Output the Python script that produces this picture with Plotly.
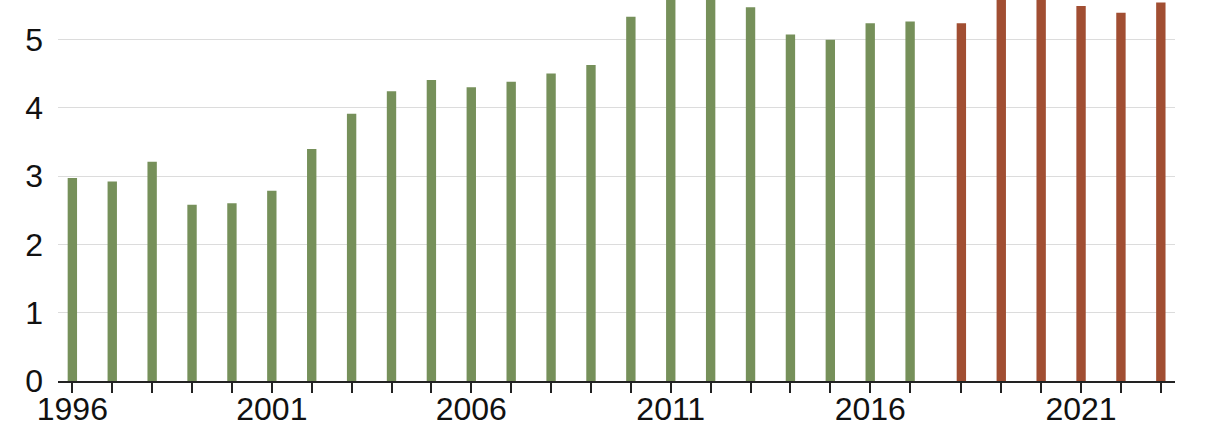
import plotly.graph_objects as go

green_years = list(range(1996, 2018))
green_values = [2.97, 2.92, 3.21, 2.58, 2.60, 2.785, 3.395, 3.91, 4.24, 4.405,
                4.30, 4.38, 4.50, 4.625, 5.33, 5.75, 5.72, 5.47, 5.07, 4.995,
                5.235, 5.26]
red_years = list(range(2018, 2024))
red_values = [5.235, 5.70, 5.68, 5.49, 5.39, 5.54]

tick_labels = ["1996", "2001", "2006", "2011", "2016", "2021"]

GREEN = "#76905a"
RED = "#a14e32"
RED_SHIFT = 0.285  # visual gap between the two periods
BAR_W = 0.235

green_x = green_years
red_x = [y + RED_SHIFT for y in red_years]
all_x = green_x + red_x
all_years = green_years + red_years

fig = go.Figure()
fig.add_trace(go.Bar(x=green_x, y=green_values, marker_color=GREEN,
                     marker_line_width=0, width=BAR_W, showlegend=False))
fig.add_trace(go.Bar(x=red_x, y=red_values, marker_color=RED,
                     marker_line_width=0, width=BAR_W, showlegend=False))

ticktext = [str(y) if str(y) in tick_labels else "" for y in all_years]
tickfont = dict(family="Liberation Sans, Arial, Helvetica, sans-serif", size=32, color="#111")

fig.update_layout(
    width=1210, height=423,
    margin=dict(l=58, r=35, t=0, b=42),
    plot_bgcolor="white", paper_bgcolor="white",
    font=tickfont,
    barmode="overlay",
    xaxis=dict(
        range=[1995.64, 2023.64],
        tickmode="array", tickvals=all_x, ticktext=ticktext,
        ticks="outside", ticklen=10, tickwidth=1.5, tickcolor="#222",
        showline=True, linecolor="#222", linewidth=1.5,
        showgrid=False, zeroline=False, automargin=False,
        tickfont=tickfont, ticklabelstandoff=-11,
    ),
    yaxis=dict(
        range=[0, 5.576],
        tickmode="array", tickvals=[0, 1, 2, 3, 4, 5],
        showgrid=True, gridcolor="#dcdcdc", gridwidth=1,
        zeroline=False, showline=False, ticks="",
        ticklabelstandoff=14, automargin=False, tickfont=tickfont,
    ),
)

fig.write_html("out.html", config={"displayModeBar": False},
               post_script="document.body.style.margin='0';document.body.style.overflow='hidden';")
